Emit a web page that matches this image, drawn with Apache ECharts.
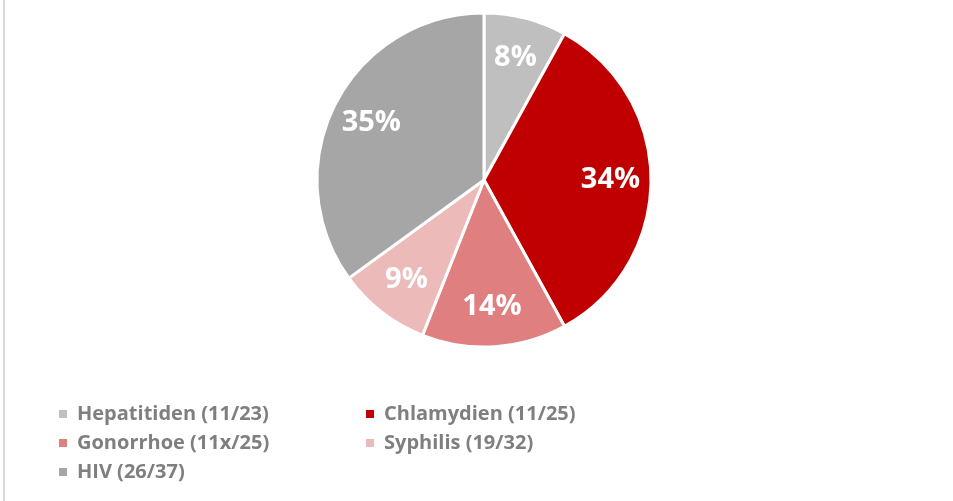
<!DOCTYPE html>
<html lang="de">
<head>
    <meta charset="UTF-8">
    <title>Infektionen</title>
    <script src="https://cdn.jsdelivr.net/npm/echarts@6/dist/echarts.min.js"></script>
    <style>
        html, body { margin: 0; padding: 0; background: #fff; }
        #charts { width: 953px; height: 501px; }
    </style>
</head>
<body>
<div id="charts"></div>
<script>
    // daten
    var names = ['Hepatitiden (11/23)', 'Chlamydien (11/25)', 'Gonorrhoe (11x/25)', 'Syphilis (19/32)', 'HIV (26/37)'];
    var values = [8, 34, 14, 9, 35];
    var colors = ['#BFBFBF', '#C00000', '#DF7F7F', '#EDBABA', '#A6A6A6'];

    var myChart = echarts.init(document.getElementById('charts'));

    var pieData = names.map(function (n, i) {
        return { name: n, value: values[i], itemStyle: { color: colors[i] } };
    });
    // zweite serie nur für die beschriftung (weiter außen)
    var labelData = names.map(function (n, i) {
        return { name: n, value: values[i] };
    });

    var legendText = {
        color: '#7F7F7F',
        fontFamily: 'Open Sans',
        fontWeight: 'bold',
        fontSize: 20,
        lineHeight: 20,
        padding: [0, 0, 0, 4]
    };

    var option = {
        animation: false,
        graphic: [{
            type: 'line',
            shape: { x1: 4, y1: 0, x2: 4, y2: 501 },
            style: { stroke: '#D9D9D9', lineWidth: 2 }
        }],
        legend: [{
            orient: 'vertical',
            left: 57,
            top: 404,
            padding: 0,
            itemWidth: 10,
            itemHeight: 10,
            itemGap: 9,
            icon: 'rect',
            data: [names[0], names[2], names[4]],
            textStyle: legendText
        }, {
            orient: 'vertical',
            left: 364,
            top: 404,
            padding: 0,
            itemWidth: 10,
            itemHeight: 10,
            itemGap: 9,
            icon: 'rect',
            data: [names[1], names[3]],
            textStyle: legendText
        }],
        series: [{
            type: 'pie',
            center: [484, 180],
            radius: [0, 167],
            startAngle: 90,
            clockwise: true,
            silent: true,
            data: pieData,
            label: { show: false },
            labelLine: { show: false },
            itemStyle: { borderColor: '#fff', borderWidth: 3 }
        }, {
            type: 'pie',
            center: [484, 180],
            radius: [80, 167],
            startAngle: 90,
            clockwise: true,
            silent: true,
            data: labelData,
            itemStyle: { color: 'rgba(0,0,0,0)', borderWidth: 0 },
            label: {
                show: true,
                position: 'inside',
                formatter: function (p) { return p.value + '%'; },
                color: '#fff',
                fontFamily: 'Open Sans',
                fontWeight: 'bold',
                fontSize: 29
            },
            labelLine: { show: false }
        }]
    };

    myChart.setOption(option);
</script>
</body>
</html>
